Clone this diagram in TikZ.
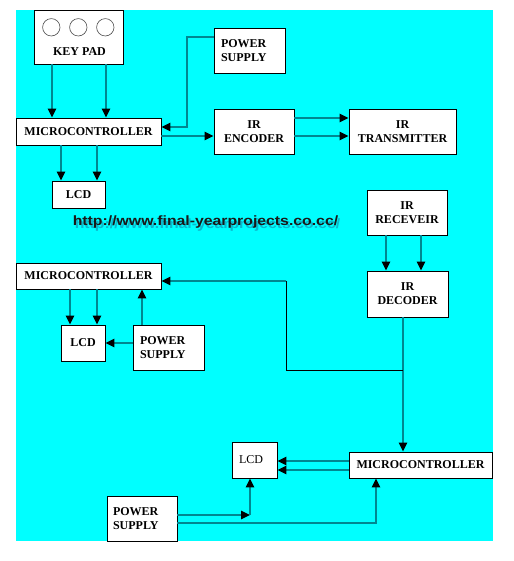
\documentclass[tikz,border=0pt]{standalone}
\usepackage{fontspec}
\setmainfont{Liberation Serif}
\newfontfamily\urlfont{Liberation Sans}
\usetikzlibrary{arrows.meta}
\definecolor{bgcyan}{RGB}{0,255,255}
\definecolor{lineteal}{RGB}{0,135,145}
\definecolor{shadowblue}{RGB}{30,80,130}
\definecolor{urlink}{RGB}{25,25,25}
\begin{document}
\begin{tikzpicture}[x=1pt,y=-1pt,
  box/.style={draw=black,fill=white,line width=0.9pt,inner sep=0pt,
    font=\fontsize{12}{14}\selectfont\bfseries,align=center},
  lbox/.style={box,align=left},
  conn/.style={draw=lineteal,line width=1.4pt,-{Triangle[color=black,length=9pt,width=8.5pt]}},
  thinline/.style={draw=black,line width=0.9pt},
  circ/.style={draw=black!70,line width=0.6pt},
  urltext/.style={inner sep=0pt,font=\urlfont\bfseries\fontsize{13.5}{16}\selectfont,xscale=1.17}]
\useasboundingbox (0,0) rectangle (513,561);
\fill[white] (0,0) rectangle (513,561);
\fill[bgcyan] (16,10) rectangle (493,541);

% ---- transmitter section
\node[box,minimum width=89pt,minimum height=54pt] (kp) at (78.5,37) {};
\draw[circ] (51.3,27.3) circle[radius=8.7pt];
\draw[circ] (78.3,27.3) circle[radius=8.7pt];
\draw[circ] (105.3,27.3) circle[radius=8.7pt];
\node[font=\fontsize{12}{14}\selectfont\bfseries,inner sep=0pt] (kpl) at (79.5,51.5) {KEY PAD};

\node[lbox,minimum width=71pt,minimum height=45pt,text width=57pt] (ps1) at (249.5,50.5) {POWER\\SUPPLY};
\node[box,minimum width=145pt,minimum height=27pt] (mc1) at (88.5,131.5) {MICROCONTROLLER};
\node[box,minimum width=80pt,minimum height=45pt] (enc) at (254,131.5) {IR\\ENCODER};
\node[box,minimum width=107pt,minimum height=45pt] (tx) at (402.5,131.5) {IR\\TRANSMITTER};
\node[box,minimum width=53pt,minimum height=27pt] (lcd1) at (78.5,194.5) {LCD};

% ---- url with shadow
\node[urltext,text=shadowblue,opacity=0.4] at (207.5,225) {http://www.final-yearprojects.co.cc/};
\node[urltext,text=urlink] (url) at (205.5,222) {http://www.final-yearprojects.co.cc/};

% ---- receiver section
\node[box,minimum width=80pt,minimum height=45pt] (rx) at (407,212.5) {IR\\RECEVEIR};
\node[box,minimum width=81pt,minimum height=46pt] (dec) at (407.5,294) {IR\\DECODER};
\node[box,minimum width=145pt,minimum height=26pt] (mc2) at (88.5,276) {MICROCONTROLLER};
\node[box,minimum width=44pt,minimum height=36pt] (lcd2) at (83,343) {LCD};
\node[lbox,minimum width=71pt,minimum height=45pt,text width=57pt] (ps2) at (168.5,347.5) {POWER\\SUPPLY};

\node[lbox,minimum width=45pt,minimum height=36pt,text width=31pt,font=\fontsize{12}{14}\selectfont] (lcd3) at (254.5,460) {LCD};
\node[box,minimum width=143pt,minimum height=26pt] (mc3) at (420.5,465) {MICROCONTROLLER};
\node[lbox,minimum width=70pt,minimum height=45pt,text width=58pt] (ps3) at (142,518.5) {POWER\\SUPPLY};

% ---- connectors: transmitter
\draw[conn] (kp.south -| 52,0) -- (mc1.north -| 52,0);
\draw[conn] (kp.south -| 106,0) -- (mc1.north -| 106,0);
\draw[conn] (ps1.west |- 0,37) -| (187,127) -- (mc1.east |- 0,127);
\draw[conn] (mc1.east |- 0,136) -- (enc.west |- 0,136);
\draw[conn] (enc.east |- 0,118) -- (tx.west |- 0,118);
\draw[conn] (enc.east |- 0,136) -- (tx.west |- 0,136);
\draw[conn] (mc1.south -| 61,0) -- (lcd1.north -| 61,0);
\draw[conn] (mc1.south -| 97,0) -- (lcd1.north -| 97,0);

% ---- connectors: receiver
\draw[conn] (rx.south -| 386,0) -- (dec.north -| 386,0);
\draw[conn] (rx.south -| 421,0) -- (dec.north -| 421,0);
\draw[conn] (dec.south -| 403,0) -- (mc3.north -| 403,0);
\coordinate (br) at (403,370);
\coordinate (bk) at (286,281);
\draw[thinline] (br) -| (bk);
\draw[conn] (bk) -- (mc2.east |- bk);
\draw[conn] (mc2.south -| 70,0) -- (lcd2.north -| 70,0);
\draw[conn] (mc2.south -| 97,0) -- (lcd2.north -| 97,0);
\draw[conn] (ps2.north -| 142,0) -- (mc2.south -| 142,0);
\draw[conn] (ps2.west |- 0,343) -- (lcd2.east |- 0,343);

\draw[conn] (mc3.west |- 0,461) -- (lcd3.east |- 0,461);
\draw[conn] (mc3.west |- 0,470) -- (lcd3.east |- 0,470);
\coordinate (cn) at (250,515);
\draw[conn] (ps3.east |- cn) -- (cn);
\draw[conn] (cn) -- (lcd3.south -| cn);
\draw[conn] (ps3.east |- 0,523) -| (mc3.south -| 376,0);
\end{tikzpicture}
\end{document}
